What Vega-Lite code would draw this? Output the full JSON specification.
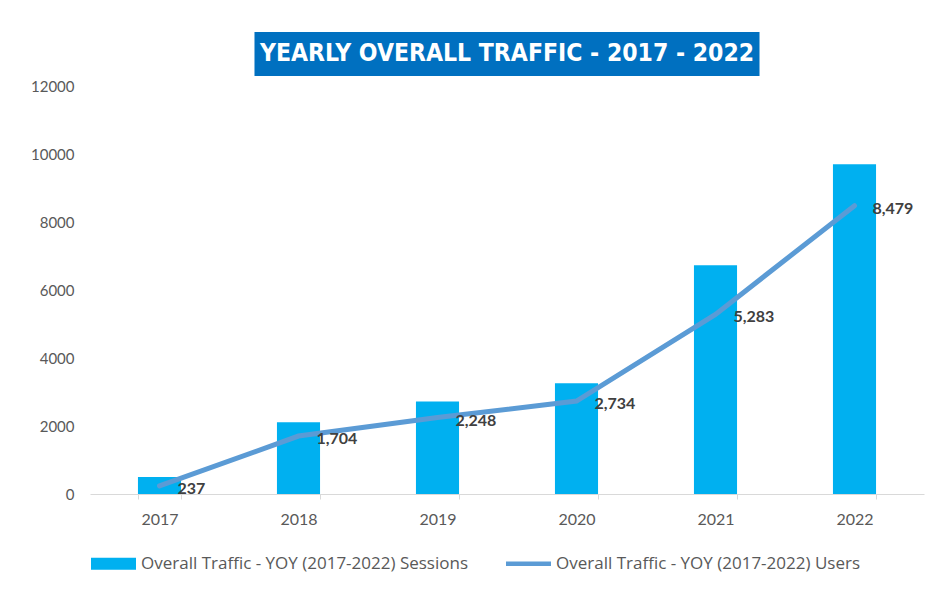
{
  "$schema": "https://vega.github.io/schema/vega-lite/v6.json",
  "padding": {"left": 30, "top": 32, "right": 12, "bottom": 5},
  "background": "white",
  "config": {"view": {"stroke": null}, "font": "Lato"},
  "spacing": 10,
  "bounds": "flush",
  "datasets": {
    "title": [{"t": "YEARLY OVERALL TRAFFIC - 2017 - 2022"}],
    "traffic": [
      {"year": "2017", "sessions": 500, "users": 237},
      {"year": "2018", "sessions": 2110, "users": 1704},
      {"year": "2019", "sessions": 2720, "users": 2248},
      {"year": "2020", "sessions": 3260, "users": 2734},
      {"year": "2021", "sessions": 6730, "users": 5283},
      {"year": "2022", "sessions": 9700, "users": 8479}
    ]
  },
  "vconcat": [
    {
      "width": 834,
      "height": 44,
      "data": {"name": "title"},
      "encoding": {
        "x": {"field": "t", "type": "nominal", "axis": null, "scale": {"paddingInner": 0, "paddingOuter": 0.3257}}
      },
      "layer": [
        {"mark": {"type": "bar", "color": "#0070C0"}},
        {"mark": {"type": "text", "color": "white", "font": "DejaVu Sans Condensed", "fontWeight": "bold", "fontSize": 24.5}, "encoding": {"text": {"field": "t"}}}
      ]
    },
    {
      "width": 834,
      "height": 408,
      "data": {"name": "traffic"},
      "encoding": {
        "x": {
          "field": "year", "type": "ordinal",
          "scale": {"paddingInner": 0.69, "paddingOuter": 0.345},
          "axis": {"title": null, "labelAngle": 0, "tickBand": "extent", "domainColor": "#D9D9D9", "tickColor": "#D9D9D9", "tickSize": 5, "labelPadding": 12, "labelFontSize": 16, "labelColor": "#595959"}
        }
      },
      "layer": [
        {
          "mark": {"type": "bar"},
          "encoding": {
            "y": {"field": "sessions", "type": "quantitative", "scale": {"domain": [0, 12000]},
              "axis": {"title": null, "values": [0, 2000, 4000, 6000, 8000, 10000, 12000], "format": "d", "grid": false, "domain": false, "ticks": false, "labelPadding": 16, "labelFontSize": 15, "labelColor": "#595959"}},
            "color": {
              "datum": "Overall Traffic - YOY (2017-2022) Sessions",
              "type": "nominal",
              "scale": {"domain": ["Overall Traffic - YOY (2017-2022) Sessions", "Overall Traffic - YOY (2017-2022) Users"], "range": ["#00B0F0", "#5B9BD5"]},
              "legend": {
                "title": null, "orient": "bottom", "direction": "horizontal",
                "symbolSize": 2025, "symbolType": "M-1,-0.27H1V0.27H-1Z",
                "labelFont": "Open Sans", "labelFontSize": 17, "labelLimit": 0, "labelColor": "#595959", "columnPadding": 36, "labelOffset": 4, "offset": 13,
                "encode": {"symbols": {"update": {"shape": {"signal": "datum.value === 'Overall Traffic - YOY (2017-2022) Users' ? 'M-1,-0.1H1V0.1H-1Z' : 'M-1,-0.27H1V0.27H-1Z'"}}}}
              }
            }
          }
        },
        {
          "mark": {"type": "line", "color": "#5B9BD5", "strokeWidth": 5, "strokeCap": "round"},
          "encoding": {"y": {"field": "users", "type": "quantitative"}}
        },
        {
          "mark": {"type": "text", "align": "left", "dx": 18, "dy": 3, "fontWeight": "bold", "fontSize": 16, "color": "#404040"},
          "encoding": {
            "y": {"field": "users", "type": "quantitative"},
            "text": {"field": "users", "type": "quantitative", "format": ","}
          }
        }
      ]
    }
  ]
}
